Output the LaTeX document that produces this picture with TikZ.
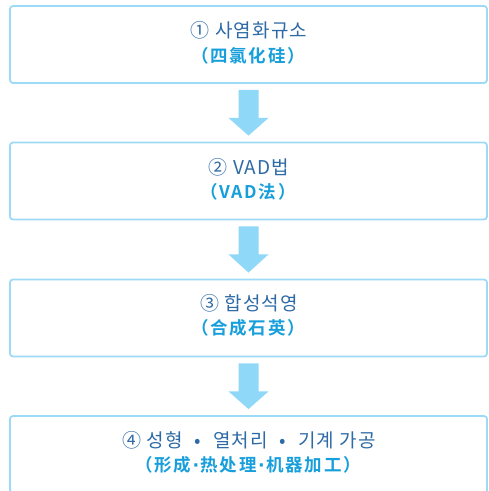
\documentclass[tikz,border=0pt]{standalone}
\usepackage{fontspec}
\usetikzlibrary{calc}
\newfontfamily\krfont[LetterSpace=6]{Noto Sans CJK KR}
\newfontfamily\zhfont[LetterSpace=10]{Noto Sans CJK SC Bold}
\newfontfamily\dotfont{DejaVu Sans Bold}
\definecolor{boxline}{HTML}{9DDAF6}
\definecolor{arrowfill}{HTML}{8FD8F7}
\definecolor{titleblue}{HTML}{2D6AA6}
\definecolor{subblue}{HTML}{179FDB}
\newcommand{\zdot}{{\dotfont\kern1.5pt·\kern1.5pt}}
\newcommand{\kdot}{\hspace{12pt}•\hspace{12pt}}
\tikzset{
  stepbox/.style={draw=boxline, line width=1.8pt, rounded corners=3pt, fill=white,
    minimum width=477pt, minimum height=77pt, inner sep=0pt},
  krtext/.style={text=titleblue, font=\krfont\fontsize{19}{21}\selectfont, inner sep=0pt},
  zhtext/.style={text=subblue, font=\zhfont\fontsize{17.5}{19}\selectfont, inner sep=0pt},
}
\newcommand{\fatarrow}[2]{%
  \fill[arrowfill] ($(#1.south)+(-10,6)$) -- ($(#1.south)+(10,6)$)
    -- ($(#1.south)+(10,34)$) -- ($(#1.south)+(20,34)$)
    -- ($(#2.north)+(0,-6)$)
    -- ($(#1.south)+(-20,34)$) -- ($(#1.south)+(-10,34)$) -- cycle;}
\begin{document}
\begin{tikzpicture}[x=1pt,y=-1pt]
\useasboundingbox (0,0) rectangle (489,491);
\clip (0,0) rectangle (489,491);
\node[stepbox] (b1) at (248.5,44.5) {};
\node[stepbox] (b2) at (248.5,181) {};
\node[stepbox] (b3) at (248.5,318) {};
\node[stepbox] (b4) at (248.5,454.5) {};
\node[krtext] (t1) at (249,30) {① 사염화규소};
\node[zhtext] (s1) at (248,56) {（四氯化硅）};
\node[krtext] (t2) at (249,167) {② VAD법};
\node[zhtext] (s2) at (248,192) {（VAD法）};
\node[krtext] (t3) at (249,303) {③ 합성석영};
\node[zhtext] (s3) at (248,328) {（合成石英）};
\node[krtext] (t4) at (249,440) {④ 성형\kdot 열처리\kdot 기계 가공};
\node[zhtext] (s4) at (248,465) {（形成\zdot 热处理\zdot 机器加工）};
\fatarrow{b1}{b2}
\fatarrow{b2}{b3}
\fatarrow{b3}{b4}
\end{tikzpicture}
\end{document}
